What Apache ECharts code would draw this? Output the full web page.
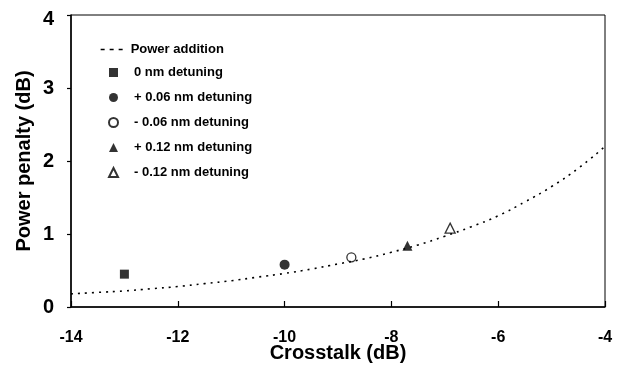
<!DOCTYPE html>
<html>
<head>
<meta charset="utf-8">
<script src="https://cdn.jsdelivr.net/npm/echarts@6/dist/echarts.min.js"></script>
<style>
  html, body { margin: 0; padding: 0; background: #fff; }
  #chart { width: 626px; height: 366px; }
</style>
</head>
<body>
<div id="chart"></div>
<script>
// power addition curve
const curveX = [-14, -13.5, -13, -12.5, -12, -11.5, -11, -10.5, -10, -9.5, -9, -8.5, -8, -7.5, -7, -6.5, -6, -5.5, -5, -4.5, -4];
const curveY = [0.18, 0.2, 0.22, 0.25, 0.28, 0.32, 0.36, 0.41, 0.46, 0.52, 0.59, 0.66, 0.75, 0.85, 0.97, 1.1, 1.25, 1.44, 1.65, 1.9, 2.2];

// measured points (crosstalk dB, penalty dB)
const det0 = [[-13, 0.45]];
const detP006 = [[-10, 0.58]];
const detM006 = [[-8.75, 0.68]];
const detP012 = [[-7.7, 0.84]];
const detM012 = [[-6.9, 1.08]];

const xTicks = [-14, -12, -10, -8, -6, -4];
const yTicks = [0, 1, 2, 3, 4];

const font = 'Arial, "Liberation Sans", sans-serif';
const chart = echarts.init(document.getElementById('chart'));

const openStyle = { color: '#fff', borderColor: '#000', borderWidth: 1.3 };
const fillStyle = { color: '#000' };
const legendText = { fontFamily: font, fontWeight: 'bold', fontSize: 13, color: '#000', lineHeight: 12 };

const option = {
  animation: false,
  grid: {
    left: 71, right: 21, top: 15, bottom: 59,
    outerBoundsMode: 'none',
    show: true, borderColor: '#000', borderWidth: 1
  },
  legend: [
    {
      // line entry
      orient: 'vertical', left: 95, top: 38,
      itemWidth: 25, itemHeight: 9,
      textStyle: legendText,
      data: [{
        name: 'Power addition',
        itemStyle: { color: 'rgba(0,0,0,0)', borderWidth: 0 },
        lineStyle: { type: [4, 5], width: 1.3 }
      }]
    },
    {
      // marker entries
      orient: 'vertical', left: 103, top: 61,
      itemWidth: 9, itemHeight: 9, itemGap: 12,
      textStyle: Object.assign({ padding: [0, 0, 0, 11] }, legendText),
      data: ['0 nm detuning', '+ 0.06 nm detuning', '- 0.06 nm detuning', '+ 0.12 nm detuning', '- 0.12 nm detuning']
    }
  ],
  xAxis: {
    type: 'value', min: -14, max: -4, interval: 2,
    name: 'Crosstalk (dB)', nameLocation: 'middle', nameGap: 36,
    nameMoveOverlap: false,
    nameTextStyle: { fontFamily: font, fontWeight: 'bold', fontSize: 20, color: '#000' },
    axisLine: { lineStyle: { color: '#000', width: 1.5 } },
    axisTick: { inside: true, length: 6, lineStyle: { color: '#000', width: 1.2 } },
    axisLabel: {
      margin: 23, fontFamily: font, fontWeight: 'bold', fontSize: 16, color: '#000',
      formatter: v => xTicks.includes(v) ? String(v) : ''
    },
    splitLine: { show: false }
  },
  yAxis: {
    type: 'value', min: 0, max: 4, interval: 1,
    name: 'Power penalty (dB)', nameLocation: 'middle', nameGap: 37,
    nameMoveOverlap: false,
    nameTextStyle: { fontFamily: font, fontWeight: 'bold', fontSize: 20, color: '#000' },
    axisLine: { lineStyle: { color: '#000', width: 1.5 } },
    axisTick: { length: 4, lineStyle: { color: '#000', width: 1.2 } },
    axisLabel: {
      margin: 17, fontFamily: font, fontWeight: 'bold', fontSize: 20, color: '#000',
      formatter: v => !yTicks.includes(v) ? '' : (v === 4 ? '{top|4}' : String(v)),
      rich: { top: { fontFamily: font, fontWeight: 'bold', fontSize: 20, color: '#000', padding: [8, 0, 0, 0] } }
    },
    splitLine: { show: false }
  },
  series: [
    {
      name: 'Power addition', type: 'line', smooth: true, symbol: 'none',
      data: curveX.map((x, i) => [x, curveY[i]]),
      lineStyle: { color: '#000', width: 1.6, type: [2, 5] },
      itemStyle: { color: '#000' }
    },
    { name: '0 nm detuning', type: 'scatter', symbol: 'rect', symbolSize: 9, data: det0, itemStyle: fillStyle },
    { name: '+ 0.06 nm detuning', type: 'scatter', symbol: 'circle', symbolSize: 10, data: detP006, itemStyle: fillStyle },
    { name: '- 0.06 nm detuning', type: 'scatter', symbol: 'circle', symbolSize: 9, data: detM006, itemStyle: openStyle },
    { name: '+ 0.12 nm detuning', type: 'scatter', symbol: 'triangle', symbolSize: 10, data: detP012, itemStyle: fillStyle },
    { name: '- 0.12 nm detuning', type: 'scatter', symbol: 'triangle', symbolSize: 10, data: detM012, itemStyle: openStyle }
  ]
};

chart.setOption(option);
</script>
</body>
</html>
